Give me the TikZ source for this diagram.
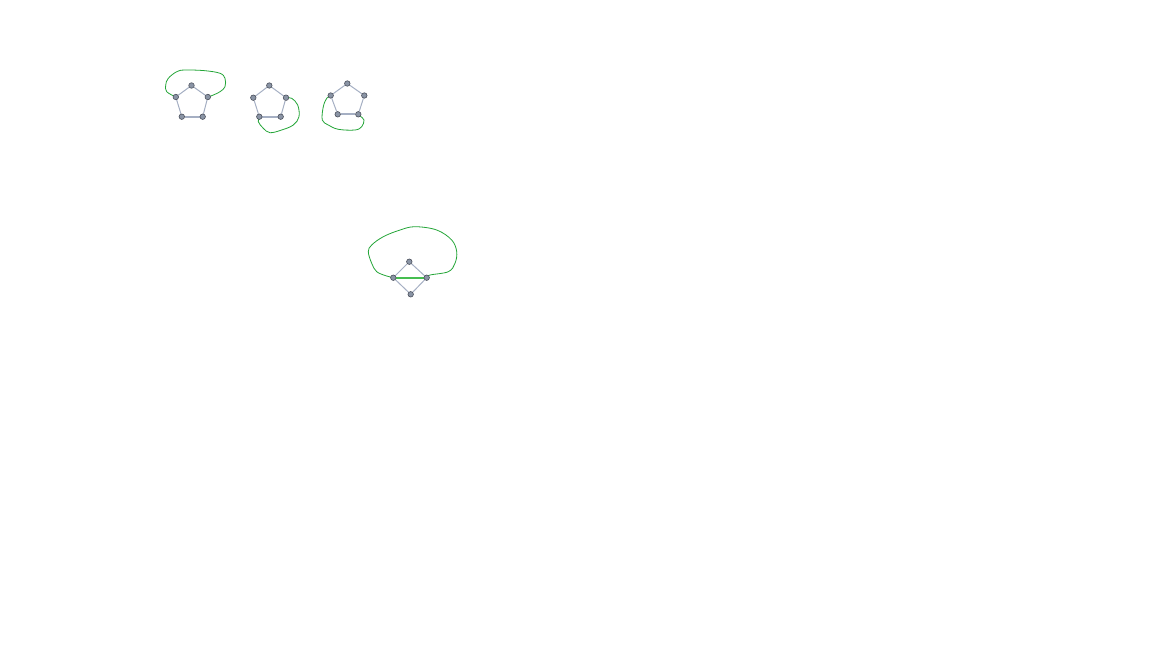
\documentclass[tikz,border=0pt]{standalone}
\usetikzlibrary{backgrounds}
\definecolor{vfill}{RGB}{138,148,165}
\definecolor{vdraw}{RGB}{75,80,92}
\definecolor{ecol}{RGB}{165,175,195}
\definecolor{gcol}{RGB}{35,165,55}
\definecolor{gthick}{RGB}{70,190,80}
\begin{document}
\begin{tikzpicture}[x=1pt,y=-1pt,
  vtx/.style={circle,draw=vdraw,fill=vfill,line width=0.6pt,minimum size=5.5pt,inner sep=0pt},
  edge/.style={draw=ecol,line width=1pt},
  thickedge/.style={draw=ecol,line width=2.2pt},
  greenedge/.style={draw=gthick,line width=2.2pt},
  loop/.style={draw=gcol,line width=0.8pt}]
\useasboundingbox (0,0) rectangle (1152,648);
% pentagon 1
\node[vtx] (a1) at (191.5,85.5) {};
\node[vtx] (a2) at (175.8,97) {};
\node[vtx] (a3) at (207.8,97) {};
\node[vtx] (a4) at (181.8,116.7) {};
\node[vtx] (a5) at (202.7,116.7) {};
% pentagon 2
\node[vtx] (b1) at (269.3,85.5) {};
\node[vtx] (b2) at (253.3,97.7) {};
\node[vtx] (b3) at (286,97.7) {};
\node[vtx] (b4) at (259.3,116.7) {};
\node[vtx] (b5) at (280.7,116.7) {};
% pentagon 3
\node[vtx] (c1) at (347.3,83.5) {};
\node[vtx] (c2) at (330.7,95.5) {};
\node[vtx] (c3) at (364.3,95.5) {};
\node[vtx] (c4) at (337.7,114.3) {};
\node[vtx] (c5) at (358.3,114.3) {};
% diamond
\node[vtx] (d1) at (409.3,261.7) {};
\node[vtx] (d2) at (393.3,277.7) {};
\node[vtx] (d3) at (426.7,277.7) {};
\node[vtx] (d4) at (410.7,294.3) {};
\begin{scope}[on background layer]
\draw[edge] (a1) -- (a2) (a1) -- (a3) (a2) -- (a4) (a3) -- (a5);
\draw[thickedge] (a4) -- (a5);
\draw[loop] plot[smooth,tension=0.6] coordinates {(a2.center) (166.7,91.7) (165.7,85) (168.3,78.3) (176.7,71.7) (185,70) (205,70.7) (220,73.3) (225,78.3) (225,86.7) (220,91.7) (211.7,95.7) (a3.center)};
\draw[edge] (b1) -- (b2) (b1) -- (b3) (b2) -- (b4) (b3) -- (b5);
\draw[thickedge] (b4) -- (b5);
\draw[loop] plot[smooth,tension=0.6] coordinates {(b3.center) (291.7,98.3) (297.7,105) (299,116.7) (293.3,125) (281.7,130) (270,132.7) (263.3,128.3) (258.3,121.7) (b4.center)};
\draw[edge] (c1) -- (c2) (c1) -- (c3) (c2) -- (c4) (c3) -- (c5);
\draw[thickedge] (c4) -- (c5);
\draw[loop] plot[smooth,tension=0.6] coordinates {(c2.center) (326.7,98.3) (323.3,106.7) (322.3,120) (328.3,125) (338.3,129.3) (355,130) (361.7,126.7) (364,120) (360,116) (c5.center)};
\draw[edge] (d1) -- (d2) (d1) -- (d3) (d2) -- (d4) (d3) -- (d4);
\draw[greenedge] (d2) -- (d3);
\draw[loop] plot[smooth,tension=0.6] coordinates {(d2.center) (386.7,276) (376.7,271.7) (371.7,263.3) (368.3,251.7) (371.7,245) (383.3,236.7) (400,230) (415,226.7) (436.7,230) (451.7,240) (456.7,251.7) (455,263.3) (448.3,271.7) (430,275) (d3.center)};
\end{scope}
\end{tikzpicture}
\end{document}
